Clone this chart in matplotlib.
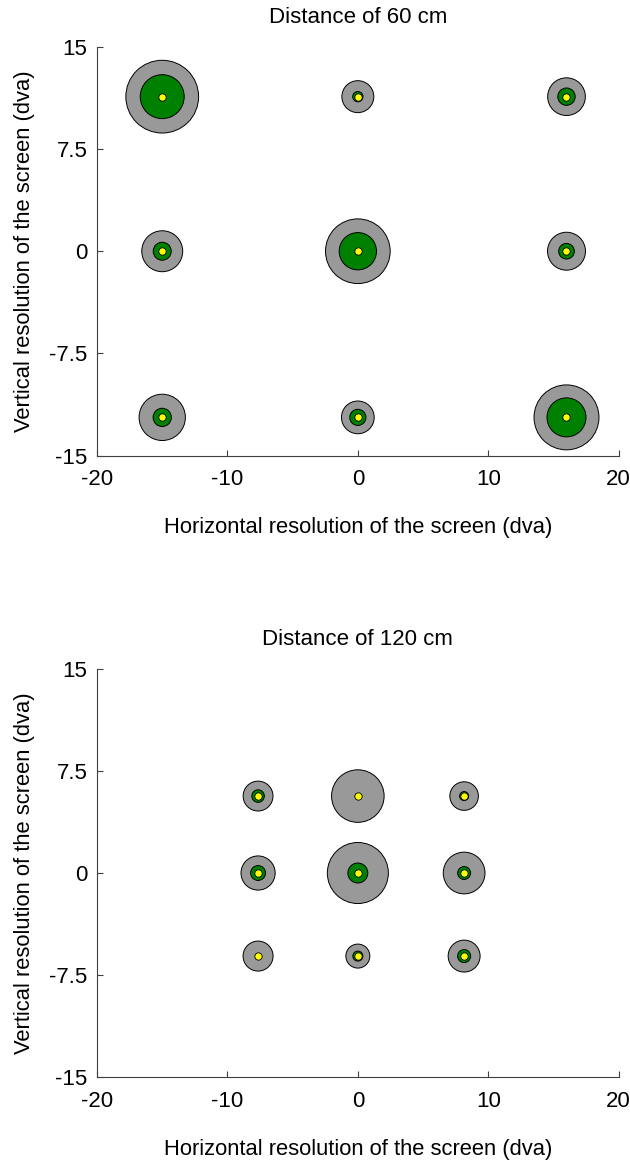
import numpy as np
import matplotlib.pyplot as plt

plt.rcParams['font.family'] = ['Liberation Sans', 'DejaVu Sans']

# target positions (dva), row by row: top, middle, bottom
x_60 = [-15, 0, 16, -15, 0, 16, -15, 0, 16]
y_60 = [11.35, 11.35, 11.35, 0, 0, 0, -12.2, -12.2, -12.2]
x_120 = [-7.65, 0, 8.15, -7.65, 0, 8.15, -7.65, 0, 8.15]
y_120 = [5.65, 5.65, 5.65, 0, 0, 0, -6.1, -6.1, -6.1]

# circle diameters (dva)
gray_60 = [5.58, 2.45, 2.89, 3.14, 4.96, 2.91, 3.55, 2.51, 4.98]
green_60 = [3.37, 0.79, 1.33, 1.38, 2.86, 1.20, 1.40, 1.24, 2.99]
gray_120 = [2.29, 4.03, 2.19, 2.62, 4.68, 3.20, 2.30, 1.84, 2.45]
green_120 = [0.96, 0.40, 0.69, 1.14, 1.53, 0.99, 0.40, 0.77, 1.00]

yticks = [-15, -7.5, 0, 7.5, 15]
ytick_labels = ['-15', '-7.5', '0', '7.5', '15']
xticks = [-20, -10, 0, 10, 20]
xtick_labels = ['-20', '-10', '0', '10', '20']

fig = plt.figure(figsize=(6.3, 11.62), dpi=100)
ax_top = fig.add_axes([0.154, 0.608, 0.828, 0.3516])
ax_bot = fig.add_axes([0.154, 0.0729, 0.828, 0.3516])


def draw_panel(ax, xs, ys, gray_d, green_d, title):
    ax.set_xlim(-20, 20)
    ax.set_ylim(-15, 15)
    # dva -> points along x
    px_per_unit = ax.transData.transform((1, 0))[0] - ax.transData.transform((0, 0))[0]
    pt_per_unit = px_per_unit * 72 / fig.dpi
    s_gray = (np.array(gray_d) * pt_per_unit) ** 2
    s_green = (np.array(green_d) * pt_per_unit) ** 2
    ax.scatter(xs, ys, s=s_gray, c='#999999', edgecolors='black', linewidths=0.7, zorder=2, clip_on=False)
    ax.scatter(xs, ys, s=s_green, c='#008000', edgecolors='black', linewidths=0.7, zorder=3, clip_on=False)
    ax.scatter(xs, ys, s=28, c='#ffff00', edgecolors='black', linewidths=0.6, zorder=4, clip_on=False)

    ax.set_xticks(xticks)
    ax.set_xticklabels(xtick_labels)
    ax.set_yticks(yticks)
    ax.set_yticklabels(ytick_labels)
    for side in ['top', 'right']:
        ax.spines[side].set_visible(False)
    for side in ['left', 'bottom']:
        ax.spines[side].set_color('#404040')
        ax.spines[side].set_linewidth(0.8)
    ax.tick_params(direction='in', length=4, width=0.8, color='#404040', labelsize=16)
    ax.tick_params(axis='x', pad=10)
    ax.tick_params(axis='y', pad=7)
    ax.set_xlabel('Horizontal resolution of the screen (dva)', fontsize=15.8, labelpad=19)
    ax.set_ylabel('Vertical resolution of the screen (dva)', fontsize=15.8, labelpad=10)
    ax.set_title(title, fontsize=16, pad=17)


draw_panel(ax_top, x_60, y_60, gray_60, green_60, 'Distance of 60 cm')
draw_panel(ax_bot, x_120, y_120, gray_120, green_120, 'Distance of 120 cm')

fig.savefig('out.png', dpi=100)
